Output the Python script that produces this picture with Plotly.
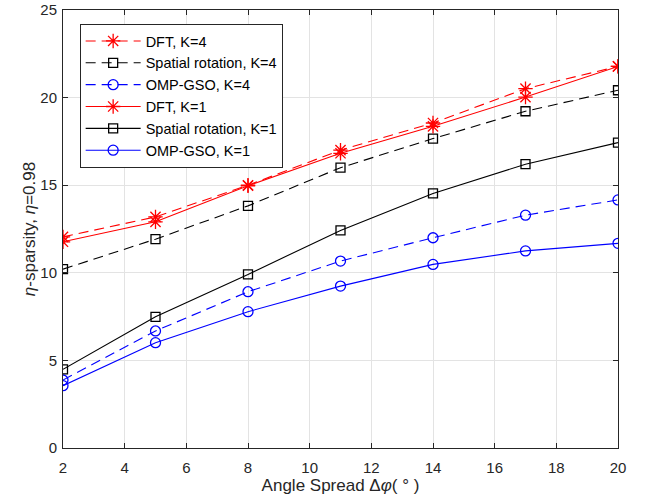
import plotly.graph_objects as go

x = [2, 5, 8, 11, 14, 17, 20]
dft_k4 = [12.05, 13.19, 15.0, 17.0, 18.55, 20.51, 21.78]
spatial_k4 = [10.21, 11.92, 13.82, 16.0, 17.66, 19.22, 20.42]
omp_k4 = [3.88, 6.68, 8.92, 10.67, 12.0, 13.29, 14.16]
dft_k1 = [11.77, 12.91, 14.97, 16.82, 18.36, 20.03, 21.78]
spatial_k1 = [4.49, 7.49, 9.91, 12.42, 14.53, 16.2, 17.43]
omp_k1 = [3.56, 6.01, 7.78, 9.24, 10.48, 11.25, 11.68]

x_ticks = [2, 4, 6, 8, 10, 12, 14, 16, 18, 20]
y_ticks = [0, 5, 10, 15, 20, 25]

RED = "#ff0000"
BLACK = "#000000"
BLUE = "#0000ff"
DASH = "10px,6px"

series = [
    ("DFT, K=4", dft_k4, RED, DASH, "asterisk-open", 12),
    ("Spatial rotation, K=4", spatial_k4, BLACK, DASH, "square-open", 9),
    ("OMP-GSO, K=4", omp_k4, BLUE, DASH, "circle-open", 10),
    ("DFT, K=1", dft_k1, RED, "solid", "asterisk-open", 12),
    ("Spatial rotation, K=1", spatial_k1, BLACK, "solid", "square-open", 9),
    ("OMP-GSO, K=1", omp_k1, BLUE, "solid", "circle-open", 10),
]

fig = go.Figure()
for name, y, color, dash, sym, size in series:
    fig.add_trace(go.Scatter(
        x=x, y=y, name=name, mode="lines+markers",
        line=dict(color=color, width=1.1, dash=dash),
        marker=dict(symbol=sym, size=size, color=color,
                    line=dict(color=color, width=1.3)),
    ))

FONT = "Liberation Sans, Arial, sans-serif"
axis_common = dict(
    showline=True, linecolor="#262626", linewidth=1, mirror="ticks",
    ticks="inside", ticklen=5, tickcolor="#262626",
    showgrid=True, gridcolor="#e3e3e3", gridwidth=1,
    zeroline=False, automargin=False,
    tickfont=dict(family=FONT, size=15, color="#262626"),
)

fig.update_layout(
    width=649, height=502,
    margin=dict(l=63, r=31, t=10, b=54),
    paper_bgcolor="white", plot_bgcolor="white",
    font=dict(family=FONT, color="#262626"),
    xaxis=dict(range=[2, 20], tickvals=x_ticks, ticklabelstandoff=6,
               title=dict(text="Angle Spread Δ<i>φ</i>( ° )",
                          font=dict(size=17), standoff=2),
               **axis_common),
    yaxis=dict(range=[0, 25], tickvals=y_ticks, ticklabelstandoff=2,
               title=dict(text="<i>η</i>-sparsity, <i>η</i>=0.98",
                          font=dict(size=17), standoff=0),
               **axis_common),
    legend=dict(x=0.03, y=0.968, xanchor="left", yanchor="top",
                bgcolor="white", bordercolor="#262626", borderwidth=1,
                font=dict(size=14.5, color="#000000"),
                tracegroupgap=0, itemwidth=55),
    showlegend=True,
)

fig.write_html("out.html")
